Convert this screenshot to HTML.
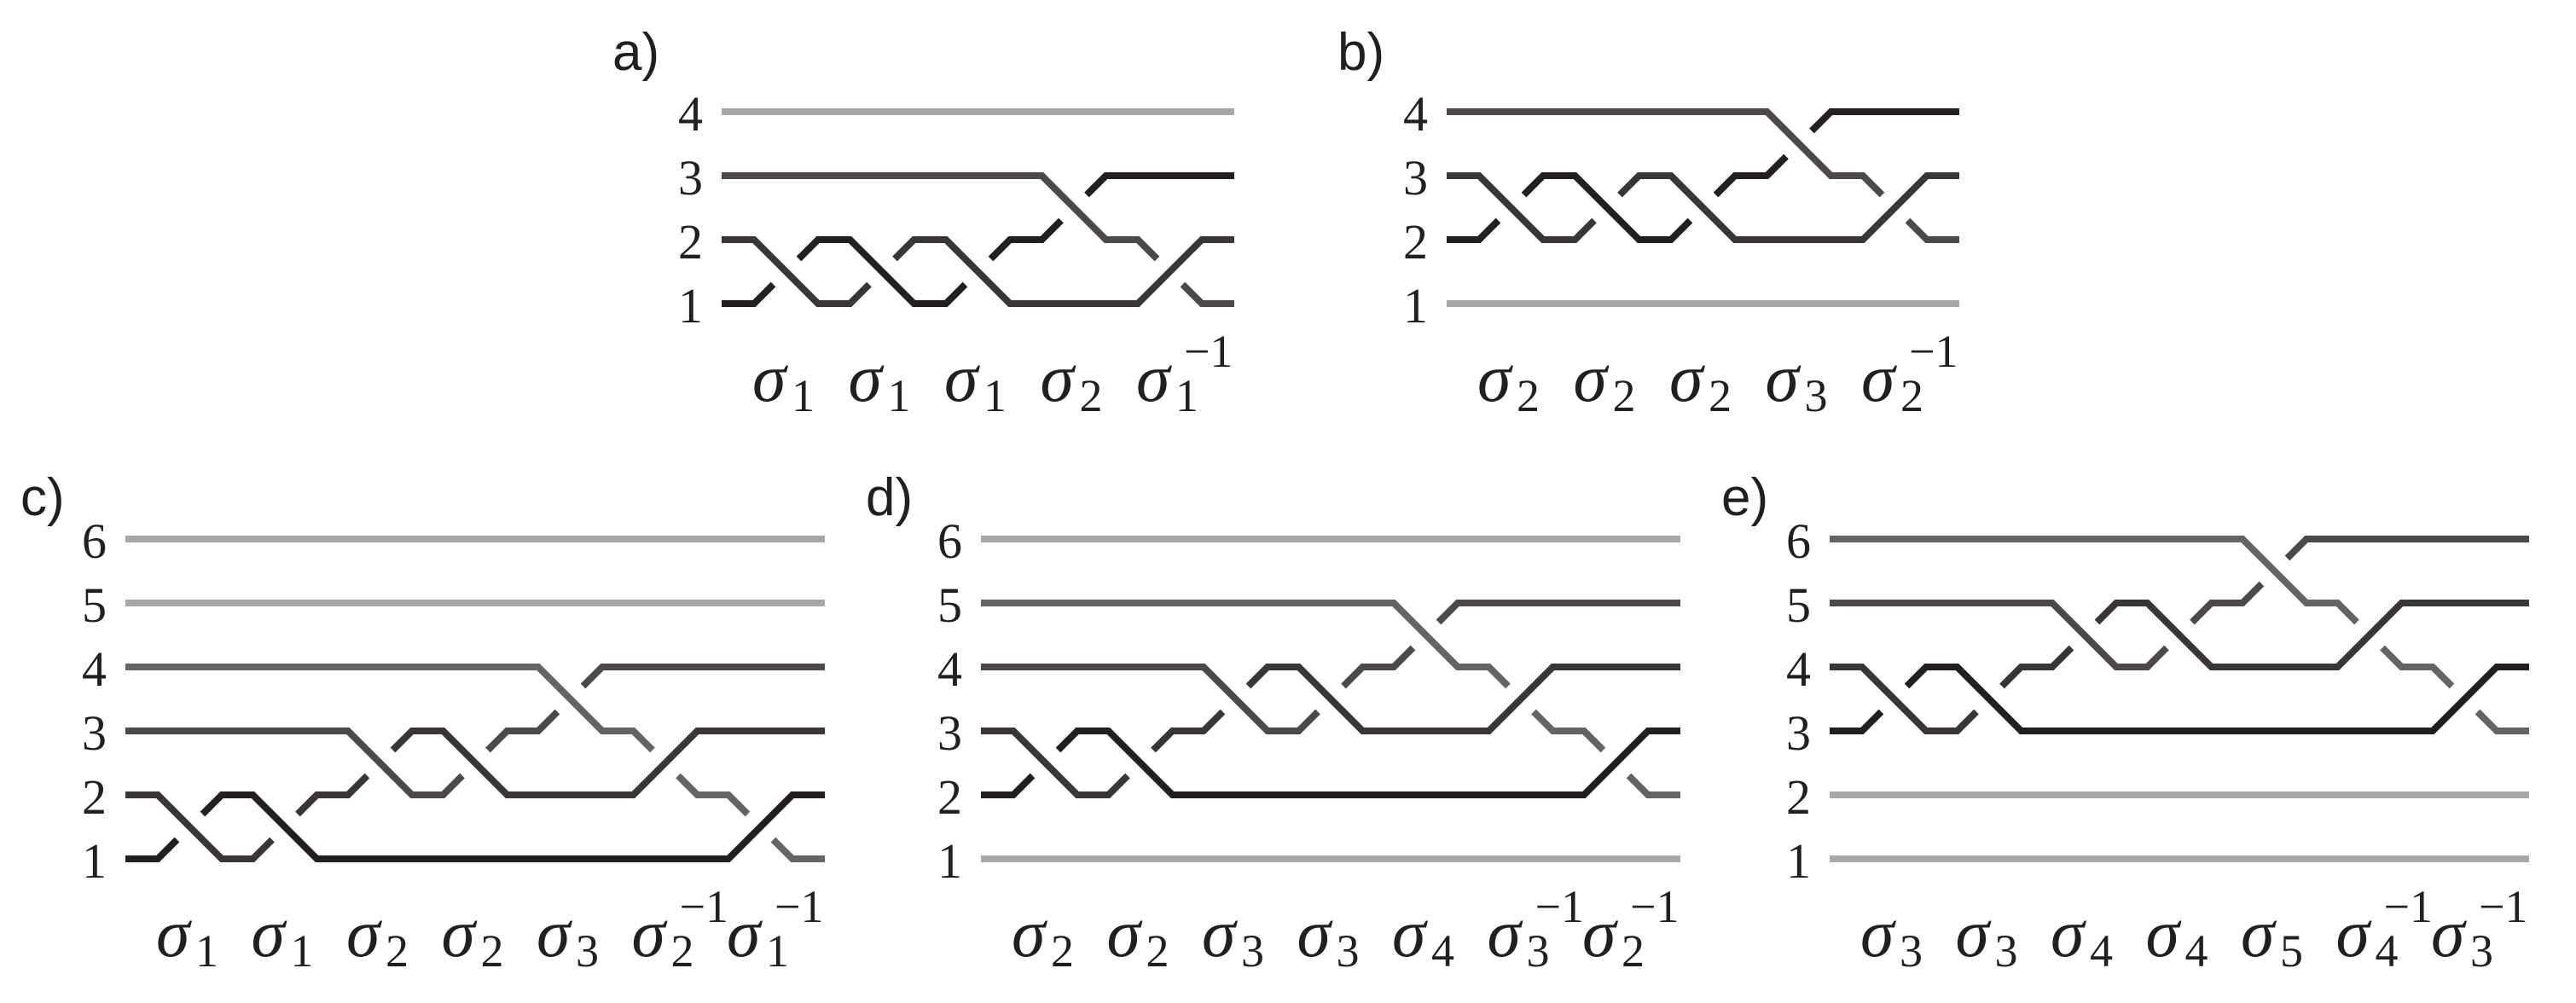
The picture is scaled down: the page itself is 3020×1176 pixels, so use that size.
<!DOCTYPE html>
<html><head><meta charset="utf-8">
<style>
html,body{margin:0;padding:0;background:#fff;}
svg{display:block;}
</style></head>
<body>
<svg id="s" width="3020" height="1176" viewBox="0 0 3020 1176" xmlns="http://www.w3.org/2000/svg">
<rect width="3020" height="1176" fill="#fff"/>
</svg>
<script>
const NS="http://www.w3.org/2000/svg";
const svg=document.getElementById('s');
function el(t,a,txt){const e=document.createElementNS(NS,t);for(const k in a)e.setAttribute(k,a[k]);if(txt!==undefined)e.textContent=txt;svg.appendChild(e);return e;}
const LG="#a7a7a7";
function panel(o){
  const S=75, P=o.P||112.5, D=75, LEAD=38;
  const n=o.n, y1=o.y1, x0=o.x0, m=o.gens.length;
  const rowY=i=>y1-(i-1)*S;
  const xEnd=x0+LEAD+(m-1)*P+D+LEAD;
  const strands=[]; const pos=[];
  for(let i=1;i<=n;i++){const s={color:o.colors[i]||LG,paths:[[[x0,rowY(i)]]]};strands.push(s);pos[i]=s;}
  o.gens.forEach((g,k)=>{
    const i=g[0], sign=g[1];
    const xs=x0+LEAD+k*P, xe=xs+D;
    const A=pos[i], B=pos[i+1];
    const under = sign>0 ? A : B;
    function go(s,yf,yt,isUnder){
      const cur=s.paths[s.paths.length-1];
      cur.push([xs,yf]);
      if(!isUnder){cur.push([xe,yt]);}
      else{
        cur.push([xs+0.3*D,yf+0.3*(yt-yf)]);
        s.paths.push([[xs+0.7*D,yf+0.7*(yt-yf)],[xe,yt]]);
      }
    }
    go(A,rowY(i),rowY(i+1),A===under);
    go(B,rowY(i+1),rowY(i),B===under);
    pos[i]=B; pos[i+1]=A;
  });
  for(let i=1;i<=n;i++){pos[i].paths[pos[i].paths.length-1].push([xEnd,rowY(i)]);}
  const order=strands.slice().sort((a,b)=>(a.color===LG?0:1)-(b.color===LG?0:1));
  order.forEach(s=>s.paths.forEach(p=>{
    el('polyline',{points:p.map(q=>q[0].toFixed(1)+','+q[1].toFixed(1)).join(' '),fill:'none',stroke:s.color,'stroke-width':8,'stroke-linejoin':'miter','stroke-linecap':'butt'});
  }));
  for(let i=1;i<=n;i++){
    el('text',{x:x0-22,y:rowY(i)+22,'font-family':'Liberation Serif, serif','font-size':58,'text-anchor':'end',fill:'#231f20'},String(i));
  }
  o.gens.forEach((g,k)=>{
    const xs=x0+LEAD+k*P;
    const yb=y1+114;
    el('text',{x:xs-2,y:yb,'font-family':'Liberation Serif, serif','font-style':'italic','font-size':80,fill:'#231f20'},'σ');
    el('text',{x:xs+44,y:yb+12,'font-family':'Liberation Serif, serif','font-size':54,fill:'#231f20'},String(g[0]));
    if(g[1]<0){
      el('text',{x:xs+54,y:y1+74,'font-family':'Liberation Serif, serif','font-size':54,fill:'#231f20'},'−1');
    }
  });
  el('text',{x:o.lx,y:o.ly,'font-family':'Liberation Sans, sans-serif','font-size':62,fill:'#231f20'},o.label);
}
const C4={3:'#4d494a',2:'#3a3536',1:'#231f20'};
panel({n:4,y1:356,x0:846,gens:[[1,1],[1,1],[1,1],[2,1],[1,-1]],colors:C4,label:'a)',lx:718,ly:82});
panel({n:4,y1:356,x0:1696,gens:[[2,1],[2,1],[2,1],[3,1],[2,-1]],colors:{4:'#4d494a',3:'#3a3536',2:'#231f20'},label:'b)',lx:1568,ly:82});
panel({n:6,y1:1007,x0:147,P:111.5,gens:[[1,1],[1,1],[2,1],[2,1],[3,1],[2,-1],[1,-1]],colors:{4:'#666364',3:'#4d494a',2:'#3a3536',1:'#231f20'},label:'c)',lx:24,ly:604});
panel({n:6,y1:1007,x0:1150,P:111.5,gens:[[2,1],[2,1],[3,1],[3,1],[4,1],[3,-1],[2,-1]],colors:{5:'#666364',4:'#4d494a',3:'#3a3536',2:'#231f20'},label:'d)',lx:1015,ly:604});
panel({n:6,y1:1007,x0:2145,P:111.5,gens:[[3,1],[3,1],[4,1],[4,1],[5,1],[4,-1],[3,-1]],colors:{6:'#666364',5:'#4d494a',4:'#3a3536',3:'#231f20'},label:'e)',lx:2018,ly:604});
</script>
</body></html>
